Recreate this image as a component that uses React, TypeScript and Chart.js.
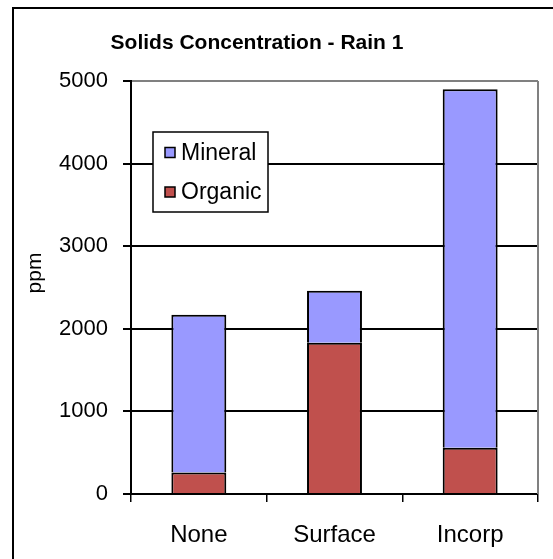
import { useEffect, useRef } from "react";
import { Chart, registerables } from "chart.js";

Chart.register(...registerables);

const categories = ["None", "Surface", "Incorp"];
const organic = [260, 1830, 560];
const mineral = [1910, 630, 4340];
const yMin = 0;
const yMax = 5000;
const yStep = 1000;
const titleText = "Solids Concentration - Rain 1";
const yAxisTitle = "ppm";

const FONT = "'Liberation Sans', Arial, Helvetica, sans-serif";
const MINERAL_COLOR = "#9999FF";
const ORGANIC_COLOR = "#C0504D";

// Title and rotated y-axis caption, placed where the sheet layout puts them
const captions = {
  id: "captions",
  afterDraw(chart: any) {
    const ctx = chart.ctx;
    ctx.save();
    ctx.fillStyle = "#000";
    ctx.textAlign = "center";
    ctx.textBaseline = "middle";
    ctx.font = `bold 21px ${FONT}`;
    ctx.fillText(titleText, 257, 43);
    ctx.translate(35, 273);
    ctx.rotate(-Math.PI / 2);
    ctx.font = `21px ${FONT}`;
    ctx.fillText(yAxisTitle, 0, 0);
    ctx.restore();
  },
};

// Grey frame on the open right edge of the plot area
const plotFrame = {
  id: "plotFrame",
  beforeDatasetsDraw(chart: any) {
    const { ctx, chartArea } = chart;
    ctx.save();
    ctx.strokeStyle = "#808080";
    ctx.lineWidth = 2;
    ctx.beginPath();
    ctx.moveTo(chartArea.right, chartArea.top);
    ctx.lineTo(chartArea.right, chartArea.bottom);
    ctx.stroke();
    ctx.restore();
  },
};

// Boxed legend sitting inside the plot area, top series listed first
const insideLegend = {
  id: "insideLegend",
  afterDatasetsDraw(chart: any) {
    const ctx = chart.ctx;
    const x = 153;
    const y = 132;
    const w = 115;
    const h = 80;
    ctx.save();
    ctx.fillStyle = "#fff";
    ctx.fillRect(x, y, w, h);
    ctx.strokeStyle = "#000";
    ctx.lineWidth = 1.5;
    ctx.strokeRect(x, y, w, h);
    const items = [...chart.data.datasets].reverse();
    items.forEach((ds: any, i: number) => {
      const cy = y + 20.5 + i * 39.5;
      ctx.fillStyle = ds.backgroundColor;
      ctx.fillRect(x + 12, cy - 5, 10, 10);
      ctx.lineWidth = 1.5;
      ctx.strokeRect(x + 12, cy - 5, 10, 10);
      ctx.fillStyle = "#000";
      ctx.font = `23px ${FONT}`;
      ctx.textAlign = "left";
      ctx.textBaseline = "middle";
      ctx.fillText(ds.label, x + 28, cy + 1);
    });
    ctx.restore();
  },
};

export default function App() {
  const canvasRef = useRef<HTMLCanvasElement>(null);

  useEffect(() => {
    const canvas = canvasRef.current;
    if (!canvas) return;
    const chart = new Chart(canvas, {
      type: "bar",
      data: {
        labels: categories,
        datasets: [
          {
            label: "Organic",
            data: organic,
            backgroundColor: ORGANIC_COLOR,
            borderColor: "#000",
            borderWidth: 2,
          },
          {
            label: "Mineral",
            data: mineral,
            backgroundColor: MINERAL_COLOR,
            borderColor: "#000",
            borderWidth: 2,
          },
        ],
      },
      options: {
        responsive: false,
        maintainAspectRatio: false,
        animation: false,
        devicePixelRatio: 1,
        layout: { padding: { left: 0, right: 15, top: 81, bottom: 0 } },
        datasets: {
          bar: { categoryPercentage: 1, barPercentage: 0.405 },
        },
        plugins: {
          legend: { display: false },
          title: { display: false },
          tooltip: { enabled: false },
        },
        scales: {
          x: {
            stacked: true,
            offset: true,
            afterFit: (s: any) => {
              s.height = 65;
            },
            grid: {
              offset: true,
              drawOnChartArea: false,
              tickLength: 8,
              color: "#000",
              lineWidth: 1.5,
            },
            border: { color: "#000", width: 2 },
            ticks: {
              color: "#000",
              padding: 19,
              font: { family: FONT, size: 24 },
            },
          },
          y: {
            stacked: true,
            min: yMin,
            max: yMax,
            afterFit: (s: any) => {
              s.width = 131;
            },
            grid: {
              tickLength: 8,
              lineWidth: 2,
              color: (c: any) => (c.tick && c.tick.value === yMax ? "#808080" : "#000"),
              tickColor: "#000",
            },
            border: { color: "#000", width: 2 },
            ticks: {
              stepSize: yStep,
              color: "#000",
              padding: 15,
              font: { family: FONT, size: 22 },
              callback: (v: any) => String(v),
            },
          },
        },
      },
      plugins: [plotFrame, insideLegend, captions],
    });
    return () => chart.destroy();
  }, []);

  return (
    <div
      style={{
        position: "fixed",
        left: 0,
        top: 0,
        width: 553,
        height: 559,
        overflow: "hidden",
        background: "#fff",
      }}
    >
      <div
        style={{
          position: "absolute",
          left: 12,
          top: 7,
          width: 600,
          height: 600,
          border: "2px solid #000",
        }}
      />
      <canvas
        ref={canvasRef}
        width={553}
        height={559}
        style={{ position: "absolute", left: 0, top: 0 }}
      />
    </div>
  );
}
